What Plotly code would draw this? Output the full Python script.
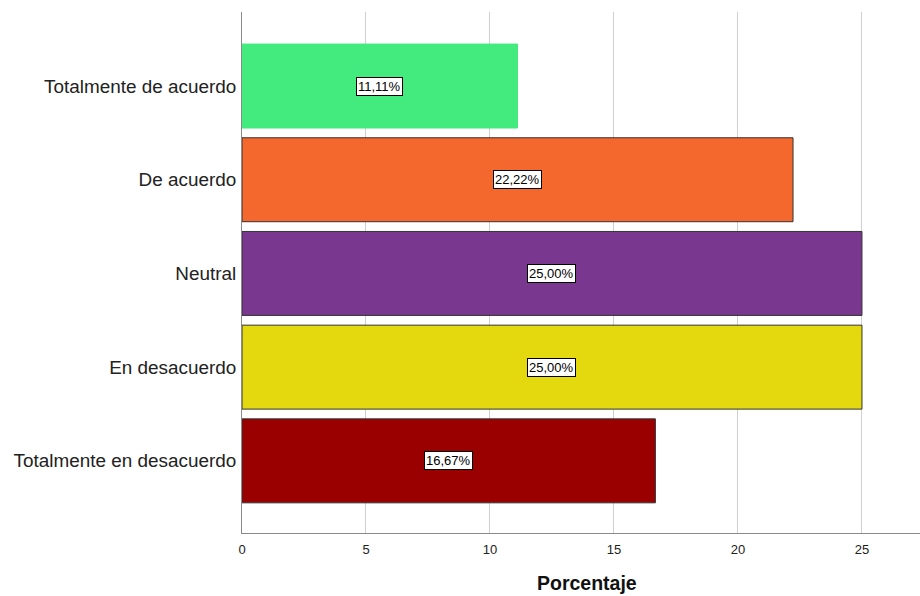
import plotly.graph_objects as go

# Survey answer categories, top to bottom
categorias = [
    "Totalmente de acuerdo",
    "De acuerdo",
    "Neutral",
    "En desacuerdo",
    "Totalmente en desacuerdo",
]
porcentajes = [11.11, 22.22, 25.00, 25.00, 16.67]
colores = ["#43EB7E", "#F4682D", "#7A3790", "#E4D80F", "#9A0000"]
bordes = ["#43EB7E", "#333333", "#333333", "#333333", "#333333"]
ticks_x = [0, 5, 10, 15, 20, 25]

FUENTE = "Liberation Sans, Arial, sans-serif"

fig = go.Figure(
    go.Bar(
        x=porcentajes,
        y=categorias,
        orientation="h",
        marker=dict(color=colores, line=dict(color=bordes, width=1)),
        hoverinfo="skip",
    )
)

# Value boxes centred on each bar
for cat, val in zip(categorias, porcentajes):
    fig.add_annotation(
        x=val / 2,
        y=cat,
        text=f"{val:.2f}%".replace(".", ","),
        showarrow=False,
        font=dict(family=FUENTE, size=13, color="#000000"),
        bgcolor="#FFFFFF",
        bordercolor="#000000",
        borderwidth=1,
        borderpad=1,
    )

# Axis title placed as a paper annotation below the tick labels
fig.add_annotation(
    x=0.509,
    y=-0.096,
    xref="paper",
    yref="paper",
    xanchor="center",
    yanchor="middle",
    text="<b>Porcentaje</b>",
    showarrow=False,
    font=dict(family=FUENTE, size=19.5, color="#111111"),
)

fig.update_layout(
    width=920,
    height=596,
    margin=dict(l=242, r=0, t=12, b=63),
    paper_bgcolor="#FFFFFF",
    plot_bgcolor="#FFFFFF",
    bargap=0.104,
    showlegend=False,
    font=dict(family=FUENTE, color="#222222"),
)

fig.update_xaxes(
    range=[0, 27.34],
    tickvals=ticks_x,
    ticktext=[str(t) for t in ticks_x],
    showgrid=True,
    gridcolor="#CFCFCF",
    gridwidth=1,
    zeroline=False,
    showline=True,
    linecolor="#8A8A8A",
    linewidth=1,
    ticks="",
    ticklabelstandoff=4,
    tickfont=dict(size=13, color="#222222"),
)

fig.update_yaxes(
    type="category",
    categoryorder="array",
    categoryarray=categorias,
    range=[4.77, -0.79],
    showgrid=False,
    zeroline=False,
    showline=True,
    linecolor="#8A8A8A",
    linewidth=1,
    ticks="",
    ticklabelstandoff=1,
    tickfont=dict(size=18.9, color="#222222"),
)

fig.write_html("out.html")
